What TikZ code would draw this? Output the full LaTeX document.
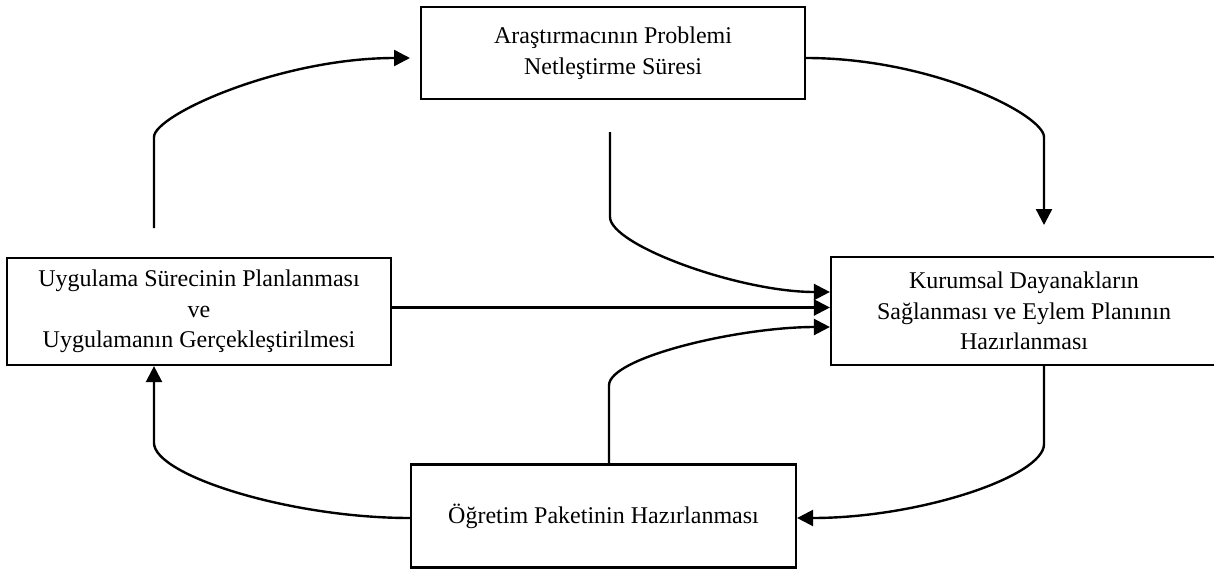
\documentclass[tikz,border=0pt]{standalone}
\usepackage{fontspec}
\setmainfont{Liberation Serif}
\usetikzlibrary{positioning, arrows.meta}

\begin{document}
\begin{tikzpicture}[
    x=1pt, y=-1pt, node distance=2.5cm, on grid,
    arr/.style={-{Triangle[length=16pt, width=16pt]}, line width=2.4pt},
    box/.style={draw, line width=2.2pt, align=center, inner sep=0pt,
        font=\fontsize{24}{30.5}\selectfont}
]
    \useasboundingbox (0,0) rectangle (1214,570);

    \node[box, minimum width=384pt, minimum height=92pt] (top) at (613,53)
        {Araştırmacının Problemi\\Netleştirme Süresi};
    \node[box, minimum width=384pt, minimum height=107pt] (plan) [below left=258.5pt and 414pt of top]
        {Uygulama Sürecinin Planlanması\\ve\\Uygulamanın Gerçekleştirilmesi};
    \node[box, minimum width=386pt, minimum height=108pt] (kurum) [below right=258pt and 411pt of top]
        {Kurumsal Dayanakların\\Sağlanması ve Eylem Planının\\Hazırlanması};
    \node[box, minimum width=385pt, minimum height=103pt] (paket) [below=463pt of top, xshift=-9.5pt]
        {Öğretim Paketinin Hazırlanması};

    % free ends of the connectors
    \coordinate (planup) at (154,228);
    \coordinate (topin) at (410,58);
    \coordinate (kurumin) at (1044,225);
    \coordinate (topout) at (610,132);
    \coordinate (planbend) at (154,443);

    \draw[arr] (planup) -- ++(0,-91) .. controls +(0,-22) and +(-130,0) .. (topin);
    \draw[arr] ([yshift=-5pt]top.east) .. controls +(126,0) and +(0,-22) .. (1044,137) -- (kurumin);
    \draw[arr] (topout) -- ++(0,85) .. controls +(0,28) and +(-91,0) .. ([yshift=19pt]kurum.west);
    \draw[arr] ([yshift=4pt]plan.east) -- ([yshift=4pt]plan.east -| kurum.west);
    \draw[arr] ([xshift=5.5pt]paket.north) -- ++(0,-78) .. controls +(0,-28) and +(-91,0) .. ([yshift=-16pt]kurum.west);
    \draw[arr] ([xshift=20pt]kurum.south) -- ++(0,78) .. controls +(0,32) and +(123,0) .. ([yshift=-2pt]paket.east);
    \draw[arr] ([yshift=-2pt]paket.west) .. controls +(-121,0) and +(0,32) .. (planbend) -- ([xshift=-45pt]plan.south);
\end{tikzpicture}
\end{document}
